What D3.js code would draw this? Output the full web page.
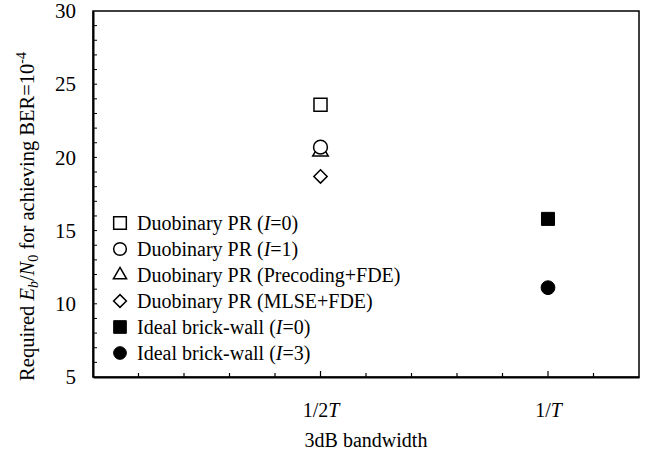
<!DOCTYPE html>
<html><head><meta charset="utf-8">
<script src="https://cdn.jsdelivr.net/npm/d3@7"></script>
<style>body{margin:0;background:#fff}svg{display:block}</style>
</head><body>
<svg id="c" width="646" height="461" font-family="'Liberation Serif', 'Times New Roman', Times, 'DejaVu Serif', serif"></svg>
<script>
// Data
const seriesNames = ["Duobinary PR (I=0)","Duobinary PR (I=1)","Duobinary PR (Precoding+FDE)","Duobinary PR (MLSE+FDE)","Ideal brick-wall (I=0)","Ideal brick-wall (I=3)"];
const seriesBandwidth = [0.5, 0.5, 0.5, 0.5, 1.0, 1.0]; // in units of 1/T
const seriesEbN0 = [23.6, 20.7, 20.4, 18.7, 15.8, 11.1];
const seriesShape = ["square","circle","triangle","diamond","square","circle"];
const seriesFilled = [false,false,false,false,true,true];
const xTickValues = [0.5, 1.0];
const xTickLabels = ["1/2T", "1/T"];
const yTickValues = [5, 10, 15, 20, 25, 30];

const FONT = "'Liberation Serif', 'Times New Roman', Times, 'DejaVu Serif', serif";
const svg = d3.select("#c");
const m = {l:93, t:11, r:639, b:377};
const x = d3.scaleLinear().domain([0, 1.2]).range([m.l, m.r]);
const y = d3.scaleLinear().domain([5, 30]).range([m.b, m.t]);

// frame
svg.append("rect").attr("x", m.l).attr("y", m.t).attr("width", m.r-m.l).attr("height", m.b-m.t)
  .attr("fill","none").attr("stroke","#000").attr("stroke-width",1.5);

// y axis
const yAxis = d3.axisLeft(y).tickValues(yTickValues).tickSize(0).tickPadding(17).tickFormat(d3.format("d"));
const gy = svg.append("g").attr("transform",`translate(${m.l},0)`).call(yAxis);
gy.attr("font-family", FONT).attr("font-size", 21);
gy.select(".domain").attr("stroke-width",2);
// inward y minor ticks
const yMinor = d3.range(6, 30, 1);
svg.append("g").selectAll("line").data(yMinor).join("line")
  .attr("x1", m.l).attr("x2", m.l+4).attr("y1", d=>y(d)).attr("y2", d=>y(d))
  .attr("stroke","#000").attr("stroke-width",1);

// x axis
const gx = svg.append("g").attr("transform",`translate(0,${m.b})`)
  .call(d3.axisBottom(x).tickValues(xTickValues).tickSize(0).tickPadding(26).tickFormat(()=>""));
gx.attr("font-family", FONT).attr("font-size", 20);
gx.select(".domain").attr("stroke-width",2);
gx.selectAll(".tick text").each(function(d,i){
  const t = d3.select(this);
  const lab = xTickLabels[i];
  t.text(null);
  t.append("tspan").text(lab.slice(0,-1));
  t.append("tspan").attr("font-style","italic").text("T");
});
const xMinor = d3.range(1, 12, 1).map(d=>d/10);
svg.append("g").selectAll("line").data(xMinor).join("line")
  .attr("x1", d=>x(d)).attr("x2", d=>x(d)).attr("y1", m.b)
  .attr("y2", d=> (Math.abs(d-0.5)<1e-9||Math.abs(d-1)<1e-9) ? m.b-6 : m.b-4)
  .attr("stroke","#000").attr("stroke-width",1.2);

// symbols
const squareDiamond = {draw(ctx, size){ const r = Math.sqrt(size/2); ctx.moveTo(0,-r); ctx.lineTo(r,0); ctx.lineTo(0,r); ctx.lineTo(-r,0); ctx.closePath(); }};
function sym(shape, size){
  const map = {square:d3.symbolSquare, circle:d3.symbolCircle, triangle:d3.symbolTriangle, diamond:squareDiamond};
  return d3.symbol().type(map[shape]).size(size)();
}
const plotSizes = {square:170, circle:150, triangle:105, diamond:88};
const legSizes = {square:160, circle:127, triangle:75, diamond:82};
function drawMarker(g, shape, filled, sizes){
  return g.append("path").attr("d", sym(shape, sizes[shape]))
    .attr("fill", filled ? "#000" : "#fff").attr("stroke","#000").attr("stroke-width", filled?1:1.5);
}
// draw order: triangle first then circle so circle overlays it
const order = [2,0,1,3,4,5];
order.forEach(i=>{
  const g = svg.append("g").attr("transform",`translate(${x(seriesBandwidth[i])},${y(seriesEbN0[i])})`);
  drawMarker(g, seriesShape[i], seriesFilled[i], plotSizes);
});

// legend
const lg = svg.append("g").attr("font-family", FONT).attr("font-size", 20);
seriesNames.forEach((name,i)=>{
  const yy = 223 + i*26;
  const g = lg.append("g").attr("transform",`translate(120,${yy})`);
  drawMarker(g, seriesShape[i], seriesFilled[i], legSizes);
  const t = g.append("text").attr("x", 17).attr("y", 6.5);
  const mm = name.match(/^(.*\()I(=\d\))$/);
  if (mm){
    t.append("tspan").text(mm[1]);
    t.append("tspan").attr("font-style","italic").text("I");
    t.append("tspan").text(mm[2]);
  } else t.text(name);
});

// axis titles
svg.append("text").attr("x", (m.l+m.r)/2).attr("y", 447).attr("text-anchor","middle")
  .attr("font-family", FONT).attr("font-size",20).text("3dB bandwidth");
const yt = svg.append("text").attr("transform",`translate(34,216.5) rotate(-90)`)
  .attr("text-anchor","middle").attr("font-family", FONT).attr("font-size",20.5);
yt.append("tspan").text("Required ");
yt.append("tspan").attr("font-style","italic").text("E");
yt.append("tspan").attr("font-style","italic").attr("font-size",14).attr("dy",4).text("b");
yt.append("tspan").attr("dy",-4).text("/");
yt.append("tspan").attr("font-style","italic").text("N");
yt.append("tspan").attr("font-size",14).attr("dy",4).text("0");
yt.append("tspan").attr("dy",-4).text(" for achieving BER=10");
yt.append("tspan").attr("font-size",14).attr("dy",-8).text("-4");
</script>
</body></html>
